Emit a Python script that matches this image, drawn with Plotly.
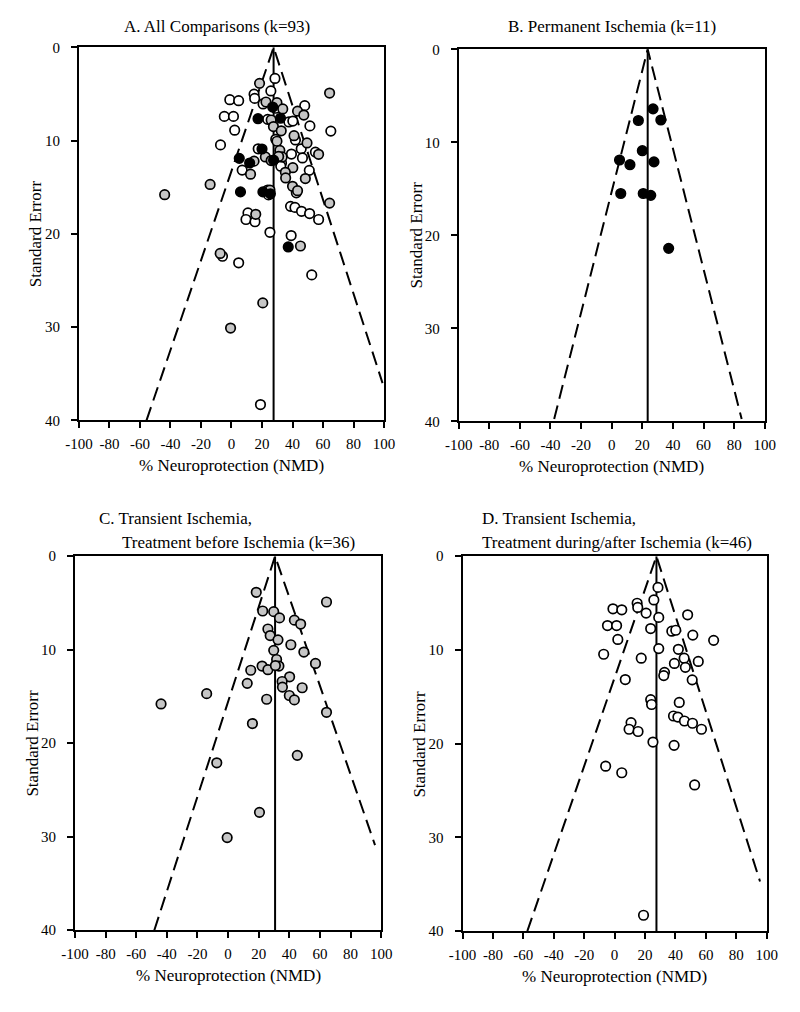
import plotly.graph_objects as go

# ---------------- data ----------------
# Permanent ischemia (black filled)
perm_nmd = [27.0, 17.4, 32.1, 20.0, 5.1, 11.9, 27.6, 5.9, 20.6, 25.5, 37.2]
perm_se = [6.4, 7.65, 7.6, 10.9, 11.9, 12.4, 12.1, 15.5, 15.5, 15.7, 21.4]

# Transient ischemia, treatment before ischemia (grey filled)
pre_nmd = [18.4, 64.3, 22.6, 29.8, 33.6, 43.3, 47.4, 26.0, 27.5, 32.6, 41.0, 29.8,
           49.5, 31.7, 57.1, 22.2, 26.0, 33.2, 14.8, 12.5, 40.2, 35.3, 35.5, 48.4,
           -14.0, 40.0, 43.3, 25.2, -43.8, 64.3, 15.9, 45.2, -7.4, 20.5, -0.6, 30.9]
pre_se = [3.86, 4.9, 5.86, 5.93, 6.6, 6.84, 7.26, 7.79, 8.49, 8.95, 9.47, 10.07,
          10.25, 11.05, 11.47, 11.75, 12.14, 11.75, 12.2, 13.6, 12.9, 13.4, 14.0, 14.07,
          14.7, 14.9, 15.37, 15.3, 15.8, 16.7, 17.9, 21.3, 22.1, 27.4, 30.1, 11.7]

# Transient ischemia, treatment during/after ischemia (open)
post_nmd = [28.5, 25.8, 14.8, 15.2, -1.1, 4.7, 20.7, 48.0, 29.0, -4.7, 1.3, 23.7,
            37.6, 40.2, 51.4, 65.1, 2.1, 29.0, 41.9, -7.2, 17.5, 45.7, 55.0, 39.3,
            46.5, 32.8, 32.3, 51.0, 7.0, 23.7, 24.3, 42.5, 38.7, 41.6, 45.9, 51.2,
            57.1, 10.8, 9.5, 15.4, 25.2, 39.1, -5.9, 4.7, 52.6, 19.0]
post_se = [3.33, 4.67, 5.02, 5.47, 5.61, 5.72, 6.07, 6.25, 6.53, 7.4, 7.4, 7.72,
           8.0, 7.9, 8.42, 8.98, 8.88, 9.86, 9.93, 10.46, 10.88, 10.88, 11.23, 11.44,
           11.86, 12.39, 12.74, 13.19, 13.16, 15.3, 15.82, 15.6, 17.05, 17.16, 17.58, 17.82,
           18.46, 17.75, 18.46, 18.7, 19.83, 20.18, 22.4, 23.1, 24.4, 38.3]

# pooled estimates (vertical lines) per panel A, B, C, D
pooled_nmd = [27.6, 23.5, 30.7, 27.5]
# funnel limit end points per panel: left (x, se) and right (x, se)
funnel_left_nmd = [-55.7, -37.6, -48.2, -57.4]
funnel_left_se = [40.0, 39.75, 40.0, 40.0]
funnel_right_nmd = [99.0, 84.9, 96.0, 95.6]
funnel_right_se = [36.0, 39.75, 30.9, 34.7]

panel_titles = ["A. All Comparisons (k=93)", "B. Permanent Ischemia (k=11)"]
x_ticks = [-100, -80, -60, -40, -20, 0, 20, 40, 60, 80, 100]
x_ticktext = ["-100", "-80", "-60", "-40", "-20", "0", "20", "40", "60", "80", "100"]
y_ticks = [0, 10, 20, 30, 40]

# ---------------- figure ----------------
W, H = 800, 1012
FONT = "Liberation Serif"
GREY = "#c6c6c6"

fig = go.Figure()

# axis frames in pixels: (left, right, top, bottom)
frames = [(67, 382, 40, 419), (459, 775, 42, 420), (63, 379, 557, 937), (463, 777, 557, 938)]


def px_x(p):
    return p / W


def px_y(p):
    return 1 - p / H


def marker(fill):
    return dict(symbol="circle", size=9.5, color=fill, line=dict(color="black", width=1.7))


groups = {
    1: [(post_nmd, post_se, "white"), (pre_nmd, pre_se, GREY), (perm_nmd, perm_se, "black")],
    2: [(perm_nmd, perm_se, "black")],
    3: [(pre_nmd, pre_se, GREY)],
    4: [(post_nmd, post_se, "white")],
}

for i in range(4):
    n = i + 1
    xa = "x" if n == 1 else f"x{n}"
    ya = "y" if n == 1 else f"y{n}"
    p = pooled_nmd[i]
    # funnel dashed lines
    fig.add_trace(go.Scatter(x=[funnel_left_nmd[i], p, funnel_right_nmd[i]],
                             y=[funnel_left_se[i], 0, funnel_right_se[i]],
                             mode="lines", line=dict(color="black", width=2, dash="14px,7px"),
                             xaxis=xa, yaxis=ya, showlegend=False, hoverinfo="skip"))
    # pooled vertical line
    fig.add_trace(go.Scatter(x=[p, p], y=[0, 40], mode="lines",
                             line=dict(color="black", width=2),
                             xaxis=xa, yaxis=ya, showlegend=False, hoverinfo="skip"))
    for xs, ys, fill in groups[n]:
        fig.add_trace(go.Scatter(x=xs, y=ys, mode="markers", marker=marker(fill),
                                 xaxis=xa, yaxis=ya, showlegend=False))

axis_common = dict(showline=True, linecolor="black", linewidth=2, mirror=True,
                   ticks="outside", ticklen=6, tickwidth=2, tickcolor="black",
                   showgrid=False, zeroline=False,
                   tickfont=dict(family=FONT, size=15, color="black"))

layout = dict(width=W, height=H, margin=dict(l=0, r=0, t=0, b=0),
              paper_bgcolor="white", plot_bgcolor="white", showlegend=False)

for i, (l, r, t, b) in enumerate(frames):
    n = i + 1
    xk = "xaxis" if n == 1 else f"xaxis{n}"
    yk = "yaxis" if n == 1 else f"yaxis{n}"
    ya = "y" if n == 1 else f"y{n}"
    xa = "x" if n == 1 else f"x{n}"
    layout[xk] = dict(domain=[px_x(l), px_x(r)], range=[-100, 100], tickvals=x_ticks,
                      ticktext=x_ticktext, anchor=ya, ticklabelstandoff=3, **axis_common)
    layout[yk] = dict(domain=[px_y(b), px_y(t)], range=[40, 0], tickvals=y_ticks,
                      anchor=xa, ticklabelstandoff=8, **axis_common)

fig.update_layout(**layout)

ann = []
tfont = dict(family=FONT, size=17, color="black")
# panel titles
ann.append(dict(text=panel_titles[0], x=px_x(210), y=px_y(19), xanchor="center", yanchor="middle"))
ann.append(dict(text=panel_titles[1], x=px_x(617), y=px_y(19), xanchor="center", yanchor="middle"))
ann.append(dict(text="C. Transient Ischemia,", x=px_x(86), y=px_y(519), xanchor="left", yanchor="middle"))
ann.append(dict(text="Treatment before Ischemia (k=36)", x=px_x(109), y=px_y(543), xanchor="left", yanchor="middle"))
ann.append(dict(text="D. Transient Ischemia,", x=px_x(481), y=px_y(519), xanchor="left", yanchor="middle"))
ann.append(dict(text="Treatment during/after Ischemia (k=46)", x=px_x(481), y=px_y(543), xanchor="left", yanchor="middle"))
# axis titles
for (l, r, t, b) in frames:
    ann.append(dict(text="% Neuroprotection (NMD)", x=px_x((l + r) / 2), y=px_y(b + 46),
                    xanchor="center", yanchor="middle"))
    ann.append(dict(text="Standard Errorr", x=px_x(l - 44), y=px_y((t + b) / 2),
                    xanchor="center", yanchor="middle", textangle=-90))
for a in ann:
    a.update(xref="paper", yref="paper", showarrow=False, font=tfont)
fig.update_layout(annotations=ann)

fig.write_html("out.html", config={"displayModeBar": False},
               post_script="document.body.style.margin='0';")
